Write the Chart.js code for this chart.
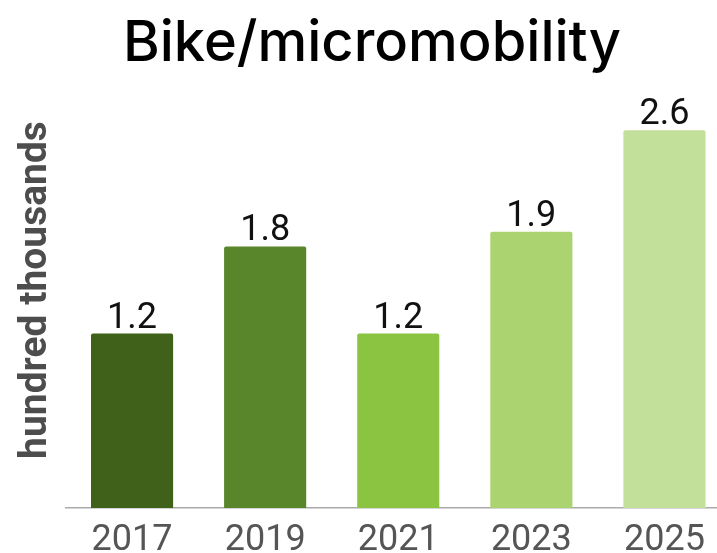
<!DOCTYPE html>
<html>
<head>
<meta charset="utf-8">
<script src="https://cdn.jsdelivr.net/npm/chart.js@4"></script>
<style>
    html, body { margin: 0; padding: 0; background: #fff; overflow: hidden; }
    #wrap { width: 731px; height: 553px; }
</style>
</head>
<body>
<div id="wrap"><canvas id="chart"></canvas></div>
<script>
const years = ['2017', '2019', '2021', '2023', '2025']
const values = [1.2, 1.8, 1.2, 1.9, 2.6]
const barColors = ['#3f611a', '#59852b', '#8bc440', '#abd470', '#c2e09a']

// value labels above each bar
const barLabels = {
    id: 'barLabels',
    afterDatasetsDraw(chart) {
        const ctx = chart.ctx
        const meta = chart.getDatasetMeta(0)
        ctx.save()
        ctx.font = '36px Roboto'
        ctx.fillStyle = '#111'
        ctx.textAlign = 'center'
        ctx.textBaseline = 'alphabetic'
        meta.data.forEach((bar, idx) => {
            ctx.fillText(values[idx].toFixed(1), bar.x, bar.y - 6)
        })
        ctx.restore()
    }
}

window.onload = () => {
    const ctx = document.getElementById('chart').getContext('2d')
    new Chart(ctx, {
        type: 'bar',
        data: {
            labels: years,
            datasets: [{
                data: values,
                backgroundColor: barColors,
                borderRadius: 2,
                borderSkipped: 'bottom',
                categoryPercentage: 1,
                barPercentage: 0.617
            }]
        },
        options: {
            responsive: true,
            maintainAspectRatio: false,
            animation: false,
            layout: { padding: { left: 13, right: 0, top: 0, bottom: 0 } },
            plugins: {
                legend: { display: false },
                tooltip: { enabled: false },
                title: {
                    display: true,
                    text: 'Bike/micromobility',
                    color: '#000',
                    font: { family: 'Inter', size: 56, weight: '500', lineHeight: 1 },
                    padding: { top: 16, bottom: 0 }
                }
            },
            scales: {
                x: {
                    grid: { display: false, drawTicks: false },
                    border: { display: true, color: '#aaa', width: 1.5 },
                    ticks: {
                        color: '#555',
                        font: { family: 'Roboto', size: 36 },
                        padding: 11.5
                    },
                    afterFit: (scale) => { scale.height = 45 }
                },
                y: {
                    min: 0,
                    max: 3,
                    grid: { display: false, drawTicks: false },
                    border: { display: false },
                    ticks: { display: false },
                    title: {
                        display: true,
                        text: 'hundred thousands',
                        color: '#4d4d4d',
                        font: { family: 'Roboto', size: 39, weight: 'bold' },
                        padding: { top: 0, bottom: 5.7 }
                    }
                }
            }
        },
        plugins: [barLabels]
    })
}
</script>
</body>
</html>
